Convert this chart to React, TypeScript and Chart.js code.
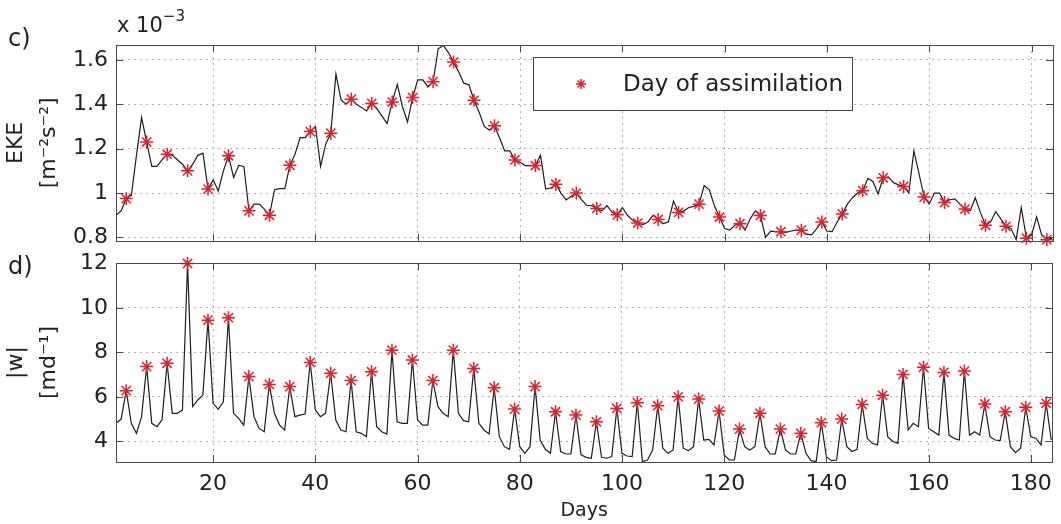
import React, { useEffect, useRef } from 'react';
import { Chart, registerables } from 'chart.js';
import { drawPoint } from 'chart.js/helpers';

Chart.register(...registerables);

const FONT = 'DejaVu Sans';

const days = Array.from({ length: 184 }, (_, i) => i + 1);

const assimilationDays = [
  3, 7, 11, 15, 19, 23, 27, 31, 35, 39, 43, 47, 51, 55, 59, 63, 67, 71, 75, 79, 83, 87, 91,
  95, 99, 103, 107, 111, 115, 119, 123, 127, 131, 135, 139, 143, 147, 151, 155, 159, 163,
  167, 171, 175, 179, 183,
];

// EKE in units of 1e-3 m^2 s^-2, days 1..184
const ekeValues = [
  0.9, 0.92, 0.975, 0.99, 1.17, 1.34, 1.23, 1.12, 1.12, 1.15,
  1.175, 1.17, 1.15, 1.13, 1.1, 1.13, 1.17, 1.18, 1.018, 1.06,
  1.01, 1.1, 1.168, 1.07, 1.125, 1.12, 0.92, 0.95, 0.95, 0.928,
  0.9, 1.015, 1.02, 1.02, 1.125, 1.175, 1.25, 1.25, 1.277, 1.3,
  1.12, 1.22, 1.27, 1.536, 1.42, 1.4, 1.423, 1.4, 1.386, 1.37,
  1.404, 1.38, 1.347, 1.313, 1.41, 1.49, 1.39, 1.32, 1.43, 1.51,
  1.51, 1.478, 1.502, 1.65, 1.665, 1.633, 1.59, 1.546, 1.495, 1.488,
  1.418, 1.364, 1.3, 1.284, 1.303, 1.248, 1.19, 1.19, 1.149, 1.139,
  1.124, 1.124, 1.124, 1.17, 1.018, 1.023, 1.04, 1.0, 0.969, 0.986,
  1.0, 0.97, 0.945, 0.943, 0.931, 0.92, 0.943, 0.913, 0.902, 0.935,
  0.9, 0.877, 0.865, 0.858, 0.87, 0.9, 0.881, 0.863, 0.87, 0.964,
  0.913, 0.92, 0.935, 0.94, 0.95, 1.034, 1.015, 0.943, 0.892, 0.84,
  0.833, 0.855, 0.862, 0.833, 0.884, 0.92, 0.899, 0.8, 0.829, 0.826,
  0.826, 0.823, 0.829, 0.833, 0.833, 0.815, 0.812, 0.84, 0.87, 0.829,
  0.826, 0.87, 0.906, 0.95, 0.979, 1.0, 1.011, 1.066, 1.052, 0.996,
  1.069, 1.073, 1.047, 1.037, 1.03, 1.0, 1.19, 1.088, 0.982, 0.95,
  1.0, 1.0, 0.957, 0.97, 0.974, 0.95, 0.928, 0.92, 0.979, 0.913,
  0.855, 0.87, 0.916, 0.884, 0.85, 0.84, 0.79, 0.935, 0.797, 0.81,
  0.892, 0.81, 0.79, 0.797,
];

// |w| in m/day, days 1..184
const wValues = [
  4.81, 5.0, 6.28, 4.81, 4.36, 5.1, 7.36, 4.81, 4.66, 4.96,
  7.51, 5.26, 5.26, 5.41, 12.0, 5.56, 5.86, 6.08, 9.45, 5.71,
  5.44, 5.78, 9.56, 5.26, 5.03, 4.73, 6.91, 5.11, 4.58, 4.43,
  6.56, 5.26, 4.73, 4.51, 6.46, 5.11, 5.18, 5.23, 7.55, 5.41,
  5.11, 5.26, 7.06, 4.96, 4.51, 4.43, 6.73, 4.43, 4.36, 4.21,
  7.13, 4.66, 4.43, 4.33, 8.1, 4.88, 4.81, 4.81, 7.66, 4.96,
  4.73, 4.73, 6.73, 5.56, 5.26, 5.11, 8.1, 5.26, 4.93, 4.88,
  7.28, 4.81, 4.51, 4.33, 6.41, 4.21, 3.76, 3.64, 5.45, 3.76,
  3.46, 3.76, 6.46, 4.06, 3.64, 3.46, 5.33, 3.54, 3.43, 3.43,
  5.18, 3.39, 3.28, 3.24, 4.88, 3.28, 3.24, 3.31, 5.48, 3.46,
  3.34, 3.31, 5.74, 3.09, 3.16, 3.61, 5.6, 3.69, 3.46, 3.61,
  6.0, 3.69, 3.58, 3.76, 5.9, 4.06, 4.09, 3.84, 5.36, 3.39,
  3.16, 3.16, 4.55, 3.76, 3.61, 3.76, 5.26, 3.76, 3.43, 3.43,
  4.55, 3.61, 3.43, 3.43, 4.36, 3.46, 3.13, 3.09, 4.84, 3.31,
  3.13, 3.16, 5.0, 3.76, 3.54, 3.64, 5.66, 4.13, 3.91, 3.84,
  6.07, 4.21, 3.99, 3.91, 7.01, 4.51, 4.81, 4.66, 7.33, 4.58,
  4.43, 4.28, 7.1, 4.28, 4.13, 4.06, 7.16, 4.28, 4.43, 4.28,
  5.68, 4.21, 4.06, 4.03, 5.33, 3.76, 3.49, 3.69, 5.53, 4.21,
  4.13, 3.84, 5.71, 4.06,
];

const dayTicks = [20, 40, 60, 80, 100, 120, 140, 160, 180];
const ekeTicks = [0.8, 1, 1.2, 1.4, 1.6];
const wTicks = [4, 6, 8, 10, 12];

const LINE_COLOR = '#1e1e1e';
const STAR_COLOR = '#e3202a';
const FRAME_COLOR = '#4a4a4a';
const TEXT_COLOR = '#222';

const framePlugin = {
  id: 'matlabFrame',
  afterDraw(chart: any) {
    const { ctx, chartArea, scales } = chart;
    const { left, top, right, bottom } = chartArea;
    const L = 7;
    ctx.save();
    ctx.strokeStyle = FRAME_COLOR;
    ctx.lineWidth = 1;
    ctx.beginPath();
    scales.x.ticks.forEach((t: any) => {
      const px = Math.round(scales.x.getPixelForValue(t.value)) + 0.5;
      ctx.moveTo(px, bottom);
      ctx.lineTo(px, bottom - L);
      ctx.moveTo(px, top);
      ctx.lineTo(px, top + L);
    });
    scales.y.ticks.forEach((t: any) => {
      const py = Math.round(scales.y.getPixelForValue(t.value)) + 0.5;
      ctx.moveTo(left, py);
      ctx.lineTo(left + L, py);
      ctx.moveTo(right, py);
      ctx.lineTo(right - L, py);
    });
    ctx.stroke();
    ctx.strokeRect(Math.round(left) + 0.5, Math.round(top) + 0.5, Math.round(right - left), Math.round(bottom - top));
    ctx.restore();
  },
};

const legendPlugin = {
  id: 'insideLegend',
  afterDraw(chart: any) {
    const { ctx } = chart;
    ctx.save();
    ctx.fillStyle = '#fff';
    ctx.fillRect(533, 57, 319, 53);
    ctx.strokeStyle = '#444';
    ctx.lineWidth = 1;
    ctx.strokeRect(533.5, 57.5, 319, 53);
    ctx.strokeStyle = STAR_COLOR;
    ctx.lineWidth = 1.5;
    drawPoint(ctx, { pointStyle: 'star', radius: 5, borderWidth: 1.5, rotation: 0 } as any, 581, 84);
    ctx.fillStyle = TEXT_COLOR;
    ctx.font = `23px "${FONT}"`;
    ctx.textBaseline = 'middle';
    ctx.textAlign = 'left';
    ctx.fillText('Day of assimilation', 623, 85);
    ctx.restore();
  },
};

function makeConfig(opts: {
  values: number[];
  yMin: number;
  yMax: number;
  yTicks: number[];
  yTitle: string[];
  showX: boolean;
  padTop: number;
  padBottom: number;
  xHeight: number;
  legend: boolean;
}): any {
  const lineData = days.map((d, i) => ({ x: d, y: opts.values[i] }));
  const starData = assimilationDays.map((d) => ({ x: d, y: opts.values[d - 1] }));
  return {
    type: 'line',
    data: {
      datasets: [
        {
          label: 'Day of assimilation',
          data: starData,
          showLine: false,
          pointStyle: 'star',
          pointRadius: 6.5,
          pointBorderWidth: 1.5,
          pointBorderColor: STAR_COLOR,
          pointBackgroundColor: STAR_COLOR,
          clip: false,
        },
        {
          label: 'series',
          data: lineData,
          borderColor: LINE_COLOR,
          borderWidth: 1.2,
          pointRadius: 0,
          tension: 0,
          fill: false,
        },
      ],
    },
    options: {
      responsive: false,
      maintainAspectRatio: false,
      animation: false,
      events: [],
      layout: { padding: { left: 0, right: 8, top: opts.padTop, bottom: opts.padBottom } },
      plugins: { legend: { display: false }, tooltip: { enabled: false }, title: { display: false } },
      scales: {
        x: {
          type: 'linear',
          min: 1,
          max: 184.2,
          afterBuildTicks: (scale: any) => {
            scale.ticks = dayTicks.map((v) => ({ value: v }));
          },
          afterFit: (scale: any) => {
            scale.height = opts.xHeight;
          },
          grid: { color: '#b4b4b4', lineWidth: 1, drawTicks: false },
          border: { display: false, dash: [2, 4] },
          ticks: {
            display: opts.showX,
            padding: 9,
            color: TEXT_COLOR,
            font: { family: FONT, size: 22 },
            maxRotation: 0,
            callback: (v: any) => String(v),
          },
          title: {
            display: opts.showX,
            text: 'Days',
            color: TEXT_COLOR,
            font: { family: FONT, size: 19 },
            padding: { top: 0, bottom: 2 },
          },
        },
        y: {
          type: 'linear',
          min: opts.yMin,
          max: opts.yMax,
          afterBuildTicks: (scale: any) => {
            scale.ticks = opts.yTicks.map((v) => ({ value: v }));
          },
          afterFit: (scale: any) => {
            scale.width = 116;
          },
          grid: { color: '#b4b4b4', lineWidth: 1, drawTicks: false },
          border: { display: false, dash: [2, 4] },
          ticks: {
            padding: 8,
            color: TEXT_COLOR,
            font: { family: FONT, size: 22 },
            callback: (v: any) => String(Math.round(Number(v) * 10) / 10),
          },
          title: {
            display: true,
            text: opts.yTitle,
            color: TEXT_COLOR,
            font: { family: FONT, size: 22, lineHeight: 1.5 },
            padding: { top: 0, bottom: 0 },
          },
        },
      },
    },
    plugins: opts.legend ? [framePlugin, legendPlugin] : [framePlugin],
  };
}

export default function App() {
  const topRef = useRef<HTMLCanvasElement | null>(null);
  const botRef = useRef<HTMLCanvasElement | null>(null);

  useEffect(() => {
    if (!topRef.current || !botRef.current) return;
    const top = new Chart(
      topRef.current,
      makeConfig({
        values: ekeValues,
        yMin: 0.785,
        yMax: 1.667,
        yTicks: ekeTicks,
        yTitle: ['EKE', '[m\u207B\u00B2s\u207B\u00B2]'],
        showX: false,
        padTop: 45,
        padBottom: 16,
        xHeight: 0,
        legend: true,
      })
    );
    const bot = new Chart(
      botRef.current,
      makeConfig({
        values: wValues,
        yMin: 3.07,
        yMax: 12.02,
        yTicks: wTicks,
        yTitle: ['|w|', '[md\u207B\u00B9]'],
        showX: true,
        padTop: 23,
        padBottom: 0,
        xHeight: 62,
        legend: false,
      })
    );
    return () => {
      top.destroy();
      bot.destroy();
    };
  }, []);

  const textStyle: React.CSSProperties = {
    position: 'absolute',
    fontFamily: FONT,
    color: TEXT_COLOR,
    lineHeight: 'normal',
    whiteSpace: 'nowrap',
  };

  return (
    <div style={{ position: 'absolute', left: 0, top: 0, width: 1061, height: 524, background: '#fff', overflow: 'hidden' }}>
      <canvas ref={botRef} width={1061} height={284} style={{ position: 'absolute', left: 0, top: 240, display: 'block' }} />
      <canvas ref={topRef} width={1061} height={262} style={{ position: 'absolute', left: 0, top: 0, display: 'block' }} />
      <div style={{ ...textStyle, left: 8, top: 24, fontSize: 24 }}>c)</div>
      <div style={{ ...textStyle, left: 8, top: 252, fontSize: 24 }}>d)</div>
      <div style={{ ...textStyle, left: 117, top: 13, fontSize: 21 }}>
        x 10<span style={{ position: 'relative', top: -11, fontSize: 15 }}>{'\u22123'}</span>
      </div>
    </div>
  );
}
